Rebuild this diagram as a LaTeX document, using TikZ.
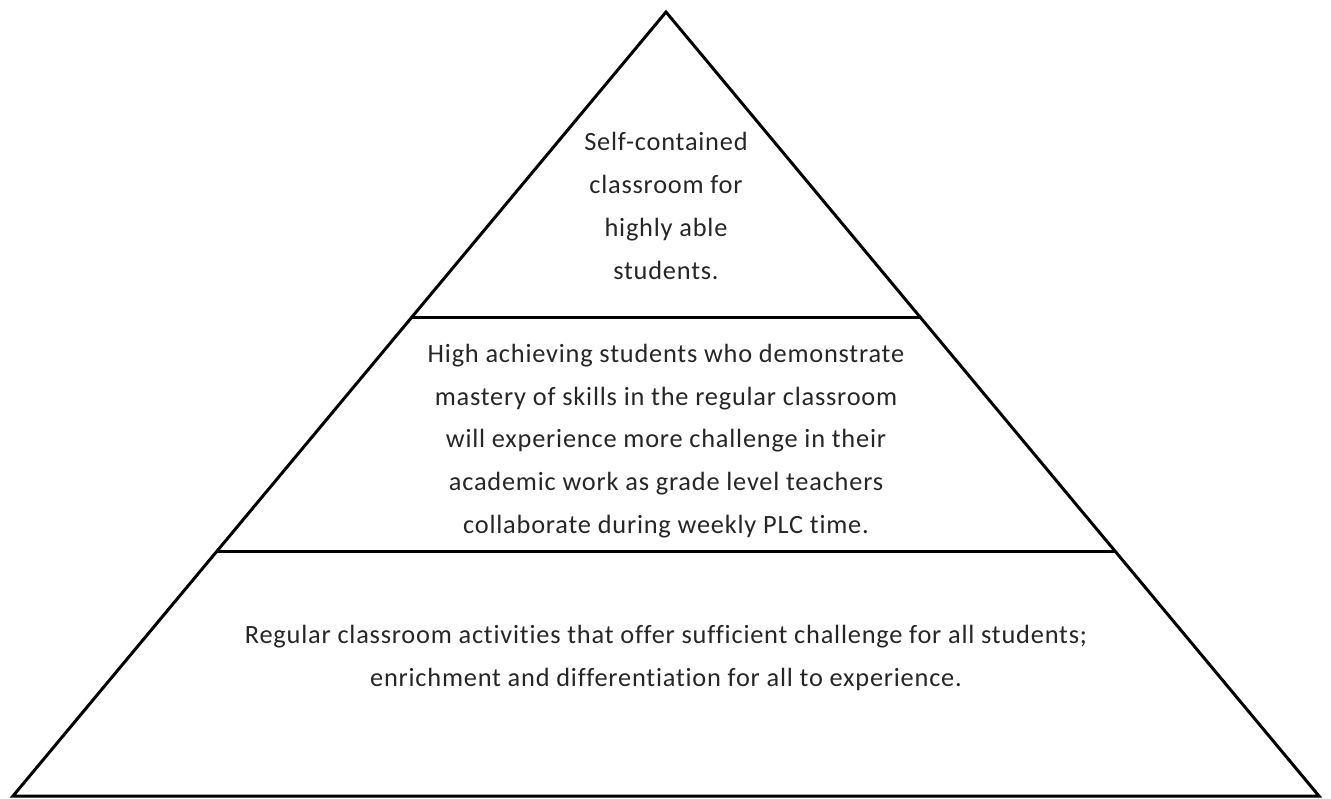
\documentclass[tikz,border=0pt]{standalone}
\usepackage{fontspec}
\setmainfont[Ligatures=NoCommon,LetterSpace=3.0]{Carlito}
\usetikzlibrary{calc}
\begin{document}
\begin{tikzpicture}
	[x=0.02cm,y=-0.02cm,
	edge/.style={draw=black,line width=1.7pt,line join=miter},
	tier/.style={align=center,text=black!85,inner sep=0pt,font=\fontsize{15}{24.4}\selectfont}]
	\useasboundingbox (0,0) rectangle (1331,798);
	\coordinate (apex) at (666,12);
	\coordinate (bl) at (13,796);
	\coordinate (br) at (1319,796);
	\coordinate (l1) at ($(apex)!0.390!(bl)$);
	\coordinate (r1) at ($(apex)!0.390!(br)$);
	\coordinate (l2) at ($(apex)!0.6875!(bl)$);
	\coordinate (r2) at ($(apex)!0.6875!(br)$);
	\draw [edge] (apex) -- (bl) -- (br) -- cycle;
	\draw [edge] (l1) -- (r1);
	\draw [edge] (l2) -- (r2);
	\node [tier] (top) at (666,206) {Self-contained\\classroom for\\highly able\\students.};
	\node [tier] (mid) at (666,441) {High achieving students who demonstrate\\mastery of skills in the regular classroom\\will experience more challenge in their\\academic work as grade level teachers\\collaborate during weekly PLC time.};
	\node [tier] (base) at (666,658) {Regular classroom activities that offer sufficient challenge for all students;\\enrichment and differentiation for all to experience.};
\end{tikzpicture}
\end{document}
